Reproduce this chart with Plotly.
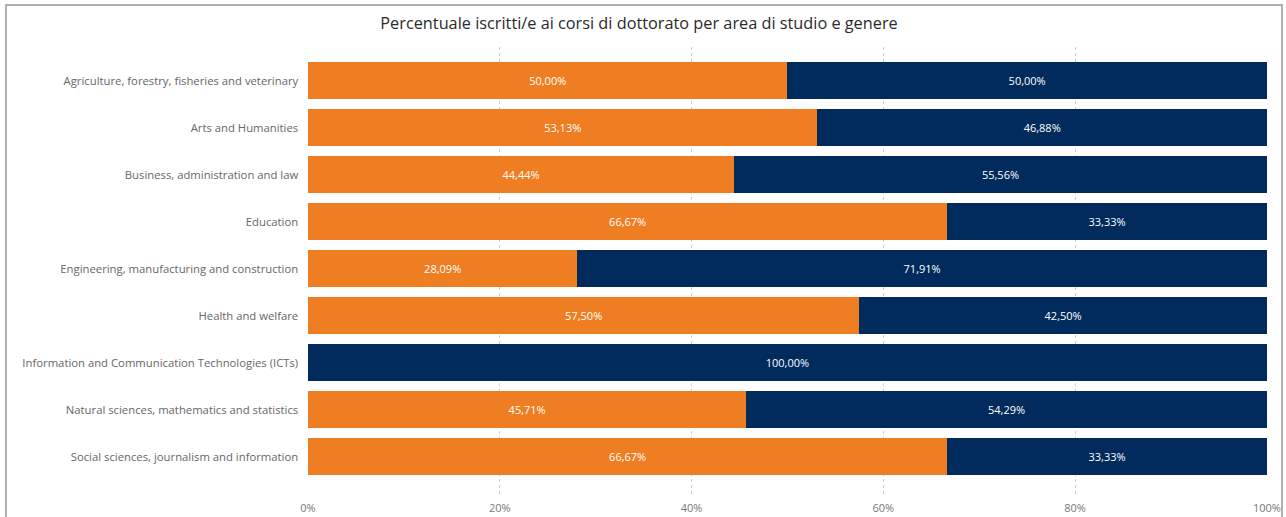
import plotly.graph_objects as go

categories = [
    "Agriculture, forestry, fisheries and veterinary",
    "Arts and Humanities",
    "Business, administration and law",
    "Education",
    "Engineering, manufacturing and construction",
    "Health and welfare",
    "Information and Communication Technologies (ICTs)",
    "Natural sciences, mathematics and statistics",
    "Social sciences, journalism and information",
]
femmine = [50.00, 53.13, 44.44, 66.67, 28.09, 57.50, 0.00, 45.71, 66.67]
maschi = [50.00, 46.88, 55.56, 33.33, 71.91, 42.50, 100.00, 54.29, 33.33]
x_ticks = [0, 20, 40, 60, 80, 100]
x_tick_labels = ["0%", "20%", "40%", "60%", "80%", "100%"]

def fmt(v):
    return "" if v == 0 else f"{v:.2f}".replace(".", ",") + "%"

ORANGE = "#EF7D22"
NAVY = "#002B5C"
FONT = "Open Sans"

fig = go.Figure()
for name, vals, col in [("Femmine", femmine, ORANGE), ("Maschi", maschi, NAVY)]:
    fig.add_trace(go.Bar(
        y=categories, x=vals, name=name, orientation="h",
        marker=dict(color=col, line=dict(width=0)),
        text=[fmt(v) for v in vals], textposition="inside",
        insidetextanchor="middle", textangle=0, constraintext="none",
        textfont=dict(color="white", size=11, family=FONT),
        cliponaxis=False,
    ))

W, H = 1286, 517
L, R, T, B = 308, 19, 47, 22
pw, ph = W - L - R, H - T - B

fig.update_layout(
    width=W, height=H, barmode="stack", bargap=0.21,
    showlegend=False, uniformtext=dict(mode=False),
    paper_bgcolor="white", plot_bgcolor="white",
    margin=dict(l=L, r=R, t=T, b=B, pad=0, autoexpand=False),
    font=dict(family=FONT, color="#666666", size=11),
    title=dict(text="Percentuale iscritti/e ai corsi di dottorato per area di studio e genere",
               x=639 / W, xanchor="center", y=1 - 23 / H, yanchor="middle",
               font=dict(size=16.3, color="#2a2a2a", family=FONT)),
    xaxis=dict(range=[0, 100.015], tickmode="array", tickvals=x_ticks, ticktext=x_tick_labels,
               showgrid=True, gridcolor="#D0D0D0", griddash="dot", gridwidth=1,
               zeroline=False, showline=False, tickfont=dict(size=11, color="#777777"),
               ticks="outside", ticklen=3, tickcolor="rgba(0,0,0,0)",
               automargin=False, fixedrange=True),
    yaxis=dict(categoryorder="array", categoryarray=categories,
               range=[8.81, -0.72], showgrid=False, zeroline=False,
               tickfont=dict(size=11.3, color="#666666"), ticksuffix="   ",
               automargin=False, fixedrange=True),
    shapes=[dict(type="rect", xref="paper", yref="paper",
                 x0=(6 - L) / pw, x1=(1282 - L) / pw,
                 y0=-(530 - (H - B)) / ph, y1=1 + (T - 5) / ph,
                 line=dict(color="#B0B0B0", width=2), fillcolor="rgba(0,0,0,0)",
                 layer="below")],
)

fig.write_html("out.html", config={"displayModeBar": False},
               post_script="document.body.style.margin='0';document.body.style.overflow='hidden';")
